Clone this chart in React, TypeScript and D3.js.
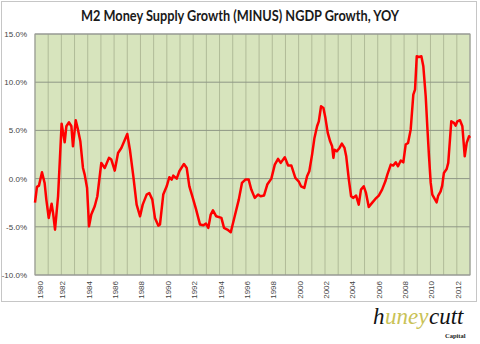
import React from "react";
import * as d3 from "d3";

const title = "M2 Money Supply Growth (MINUS) NGDP Growth, YOY";

// time in decimal years
const times: number[] = [
  1980.0, 1980.15, 1980.3, 1980.53, 1980.73, 1980.86, 1981.04, 1981.26, 1981.37, 1981.52,
  1981.75, 1982.02, 1982.25, 1982.38, 1982.58, 1982.76, 1982.88, 1983.09, 1983.26, 1983.44,
  1983.64, 1983.77, 1983.95, 1984.1, 1984.27, 1984.53, 1984.73, 1985.03, 1985.29, 1985.61,
  1985.79, 1986.05, 1986.3, 1986.55, 1986.8, 1987.0, 1987.2, 1987.46, 1987.71, 1987.97,
  1988.17, 1988.47, 1988.67, 1988.9, 1989.1, 1989.36, 1989.48, 1989.73, 1989.99, 1990.19,
  1990.37, 1990.49, 1990.75, 1990.95, 1991.3, 1991.51, 1991.71, 1991.97, 1992.22, 1992.52,
  1992.77, 1992.97, 1993.15, 1993.33, 1993.5, 1993.75, 1994.14, 1994.34, 1994.59, 1994.85,
  1995.15, 1995.46, 1995.7, 1995.96, 1996.21, 1996.41, 1996.67, 1996.92, 1997.12, 1997.37,
  1997.62, 1997.93, 1998.19, 1998.44, 1998.64, 1998.95, 1999.2, 1999.45, 1999.75, 2000.0,
  2000.18, 2000.43, 2000.64, 2000.81, 2001.02, 2001.2, 2001.4, 2001.53, 2001.7, 2001.88,
  2002.03, 2002.21, 2002.39, 2002.54, 2002.64, 2002.72, 2002.9, 2003.1, 2003.28, 2003.48,
  2003.61, 2003.81, 2003.98, 2004.15, 2004.36, 2004.56, 2004.73, 2004.94, 2005.11, 2005.32,
  2005.57, 2005.82, 2006.08, 2006.33, 2006.58, 2006.73, 2006.99, 2007.18, 2007.37, 2007.54,
  2007.75, 2007.94, 2008.12, 2008.3, 2008.5, 2008.7, 2008.83, 2008.96, 2009.13, 2009.31,
  2009.46, 2009.64, 2009.76, 2009.89, 2010.02, 2010.14, 2010.32, 2010.47, 2010.59, 2010.77,
  2010.89, 2011.02, 2011.23, 2011.35, 2011.48, 2011.58, 2011.78, 2011.91, 2012.04, 2012.24,
  2012.42, 2012.6, 2012.75, 2012.93, 2013.0,
];

// M2 growth minus NGDP growth, percent
const spread: number[] = [
  -2.5, -0.86, -0.73, 0.65, -0.45, -2.18, -4.08, -2.6, -3.56, -5.3,
  -1.83, 5.7, 3.77, 5.43, 5.84, 5.43, 3.35, 6.05, 5.08, 3.87,
  1.1, 0.41, -0.97, -4.95, -3.73, -2.87, -1.83, 1.63, 1.1, 2.15,
  1.97, 0.83, 2.66, 3.18, 3.97, 4.63, 3.0, 0.24, -2.7, -3.91,
  -2.7, -1.66, -1.49, -2.18, -4.08, -4.88, -4.77, -1.66, -0.8, 0.14,
  -0.1, 0.31, 0.0, 0.76, 1.52, 1.1, -0.8, -2.0, -3.2, -4.77,
  -4.84, -4.67, -5.11, -3.73, -3.29, -3.91, -4.08, -5.11, -5.29, -5.57,
  -3.91, -2.18, -0.45, -0.1, -0.1, -1.14, -2.0, -1.66, -1.83, -1.76,
  -0.62, 0.0, 1.45, 2.04, 1.63, 2.21, 1.35, 1.35, 0.07, -0.28,
  -0.8, -0.97, 0.24, 0.76, 2.49, 4.22, 5.43, 5.94, 7.5, 7.33,
  6.3, 4.74, 3.87, 3.35, 2.15, 3.0, 2.83, 3.18, 3.63, 3.18,
  2.31, -0.1, -1.83, -2.0, -1.76, -2.7, -1.14, -0.8, -1.49, -2.94,
  -2.52, -2.11, -1.76, -1.14, -0.28, 0.41, 1.45, 1.35, 1.69, 1.28,
  1.87, 1.69, 3.53, 3.7, 5.08, 8.71, 9.23, 12.69, 12.62, 12.69,
  11.65, 8.54, 5.43, 2.31, -0.45, -1.66, -2.11, -2.46, -1.76, -1.32,
  -0.73, 0.59, 1.0, 1.63, 4.05, 5.94, 5.78, 5.5, 5.94, 6.05,
  5.43, 2.31, 3.7, 4.39, 4.22,
];

const yTicks: number[] = [15, 10, 5, 0, -5, -10];
const gridYears: number[] = d3.range(1980, 2014);
const labelYears: number[] = [1980, 1982, 1984, 1986, 1988, 1990, 1992, 1994, 1996, 1998, 2000, 2002, 2004, 2006, 2008, 2010, 2012];

export default function App() {
  const W = 480, H = 344;
  const left = 35, right = 470, top = 34, bottom = 275;
  const x = d3.scaleLinear().domain([1980, 2013]).range([left, right]);
  const y = d3.scaleLinear().domain([-10, 15]).range([bottom, top]);
  const pts = times.map((t, i) => [t, spread[i]] as [number, number]);
  const line = d3.line<[number, number]>().x(d => x(d[0])).y(d => y(d[1])).curve(d3.curveLinear);
  const logoFont = "'Liberation Serif', 'DejaVu Serif', serif";

  return (
    <svg width={W} height={H} style={{ position: "absolute", left: 0, top: 0, background: "#fff" }}
      fontFamily="'Liberation Sans', Arial, sans-serif">
      <rect x={1.5} y={1.5} width={475} height={300} fill="#fff" stroke="#c6c6c6" />
      <text x={240} y={21} textAnchor="middle" fontFamily="Lato, 'Open Sans', sans-serif" fontWeight="bold"
        fontSize={14.5} fill="#1a1a1a" textLength={318} lengthAdjust="spacingAndGlyphs">{title}</text>

      <rect x={left} y={top} width={right - left} height={bottom - top} fill="#d7e4bd" />
      {gridYears.map(g => (
        <line key={"v" + g} x1={x(g)} x2={x(g)} y1={top} y2={bottom} stroke="#b0bb98" strokeWidth={1} />
      ))}
      {yTicks.map(v => (
        <line key={"h" + v} x1={left} x2={right} y1={y(v)} y2={y(v)} stroke="#8f9786" strokeWidth={1} />
      ))}
      <rect x={left} y={top} width={right - left} height={bottom - top} fill="none" stroke="#9a9a9a" strokeWidth={1} />

      {yTicks.map(v => (
        <text key={"yl" + v} x={27} y={y(v) + 3} textAnchor="end" fontSize={8} fill="#444">
          {v.toFixed(1) + "%"}
        </text>
      ))}
      {labelYears.map(yr => {
        const lx = Math.max(x(yr) + 1, 40);
        return (
          <text key={"xl" + yr} transform={`translate(${lx + 3},${281}) rotate(-90)`} textAnchor="end"
            fontSize={8} fill="#444">{yr}</text>
        );
      })}

      <path d={line(pts) || ""} fill="none" stroke="#ff0000" strokeWidth={2.5} strokeLinejoin="round" />

      <text x={373} y={324} fontFamily={logoFont} fontStyle="italic" fontSize={23} fill="#111">h</text>
      <text x={385} y={324} fontFamily={logoFont} fontStyle="italic" fontSize={23} fill="#c9c256">uney</text>
      <text x={429} y={324} fontFamily={logoFont} fontStyle="italic" fontSize={23} fill="#111">cutt</text>
      <text x={445} y={338} fontFamily={logoFont} fontWeight="bold" fontSize={6.5} fill="#222">Capital</text>
    </svg>
  );
}
